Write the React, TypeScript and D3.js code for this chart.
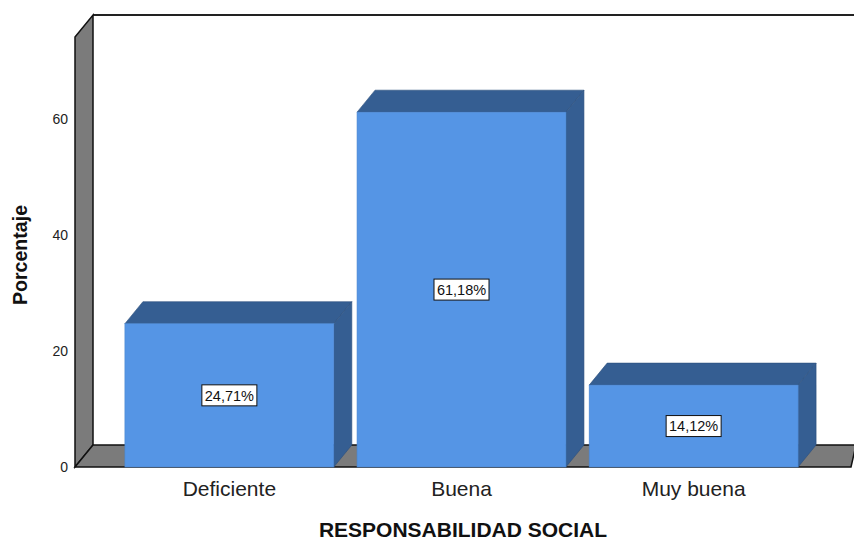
import React from "react";
import * as d3 from "d3";

const categories = ["Deficiente", "Buena", "Muy buena"];
const values = [24.71, 61.18, 14.12];
const valueLabels = ["24,71%", "61,18%", "14,12%"];
const yTicks = [0, 20, 40, 60];

const W = 854;
const H = 540;
const DX = 18;
const DY = -22;

export default function App() {
  const y = d3.scaleLinear().domain([0, 74.14]).range([467, 37]);
  const x = d3
    .scaleBand<string>()
    .domain(categories)
    .range([75, 848])
    .paddingInner(0.1)
    .paddingOuter(0.215);

  const y0 = y(0);
  const yTop = y(74.14);
  const left = 75;
  const right = 851;
  const bw = x.bandwidth();

  const front = "#5595e5";
  const dark = "#355e92";
  const wall = "#7b7b7b";

  const pts = (a: number[][]) => a.map((p) => p.join(",")).join(" ");

  return (
    <svg
      width={W}
      height={H}
      style={{ position: "absolute", left: 0, top: 0, background: "#fff" }}
      fontFamily="Arial, 'Liberation Sans', sans-serif"
    >
      {/* back wall top line */}
      <line x1={left + DX} y1={yTop + DY} x2={W} y2={yTop + DY} stroke="#222" strokeWidth={2} />
      {/* left wall */}
      <polygon
        points={pts([
          [left, yTop],
          [left + DX, yTop + DY],
          [left + DX, y0 + DY],
          [left, y0],
        ])}
        fill={wall}
        stroke="#111"
        strokeWidth={1.5}
      />
      {/* floor */}
      <polygon
        points={pts([
          [left, y0],
          [left + DX, y0 + DY],
          [W + 2, y0 + DY],
          [right, y0],
        ])}
        fill={wall}
        stroke="#111"
        strokeWidth={1.5}
      />
      {/* tick labels */}
      {yTicks.map((t) => (
        <text key={t} x={68} y={y(t)} dy="0.35em" textAnchor="end" fontSize={14} fill="#222">
          {t}
        </text>
      ))}
      {/* bars */}
      {categories.map((c, i) => {
        const x0 = x(c)!;
        const x1 = x0 + bw;
        const yt = y(values[i]);
        return (
          <g key={c}>
            <polygon
              points={pts([
                [x0, yt],
                [x0 + DX, yt + DY],
                [x1 + DX, yt + DY],
                [x1, yt],
              ])}
              fill={dark}
              stroke="#2c4f7c"
              strokeWidth={0.6}
            />
            <polygon
              points={pts([
                [x1, yt],
                [x1 + DX, yt + DY],
                [x1 + DX, y0 + DY],
                [x1, y0],
              ])}
              fill={dark}
              stroke="#2c4f7c"
              strokeWidth={0.6}
            />
            <rect x={x0} y={yt} width={bw} height={y0 - yt} fill={front} stroke="#4a86d0" strokeWidth={0.6} />
          </g>
        );
      })}
      {/* value labels */}
      {categories.map((c, i) => {
        const cx = x(c)! + bw / 2;
        const cy = (y(values[i]) + y0) / 2;
        return (
          <g key={"l" + c}>
            <rect x={cx - 27.5} y={cy - 10.5} width={55} height={21} fill="#fff" stroke="#111" strokeWidth={1} />
            <text x={cx} y={cy} dy="0.36em" textAnchor="middle" fontSize={14.5} fill="#111">
              {valueLabels[i]}
            </text>
          </g>
        );
      })}
      {/* category labels */}
      {categories.map((c) => (
        <text key={"c" + c} x={x(c)! + bw / 2} y={496} textAnchor="middle" fontSize={21} fill="#222">
          {c}
        </text>
      ))}
      {/* axis titles */}
      <text
        transform={`translate(27,255) rotate(-90)`}
        textAnchor="middle"
        fontSize={19.6}
        fontWeight="bold"
        fill="#111"
      >
        Porcentaje
      </text>
      <text x={463} y={537} textAnchor="middle" fontSize={21} fontWeight="bold" fill="#111">
        RESPONSABILIDAD SOCIAL
      </text>
    </svg>
  );
}
